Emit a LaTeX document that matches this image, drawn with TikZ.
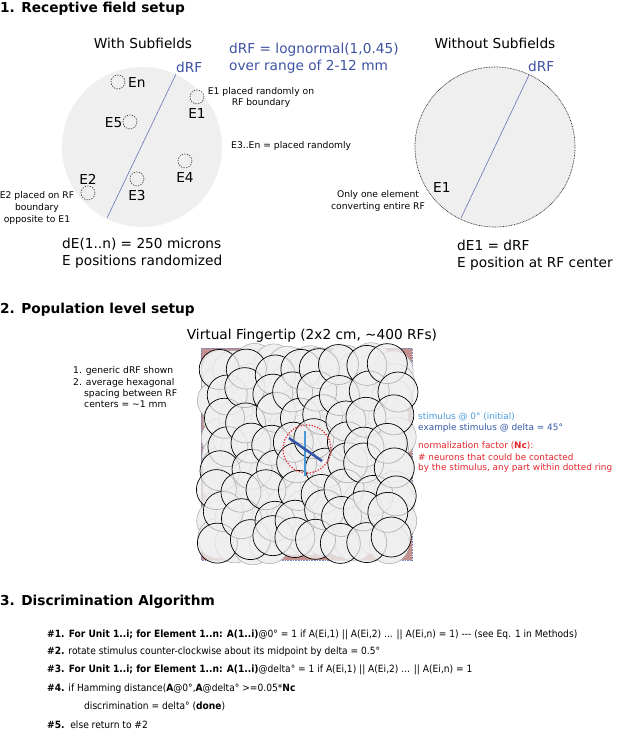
\documentclass[tikz,border=0pt]{standalone}
\usepackage{fontspec}
\setmainfont{DejaVu Sans}
\newfontfamily\condfont[FakeStretch=0.91]{DejaVu Sans}
\definecolor{rfgray}{HTML}{EFEFEF}
\definecolor{drfblue}{HTML}{3E52A3}
\definecolor{stimlight}{HTML}{4A9AD8}
\definecolor{stimdark}{HTML}{3457A8}
\definecolor{nred}{HTML}{E3242B}
\definecolor{skin}{HTML}{C4918E}
\begin{document}
\begin{tikzpicture}[x=1pt,y=-1pt,
  txt/.style={inner sep=0pt,font=\fontsize{13.7}{16}\selectfont},
  hd/.style={inner sep=0pt,anchor=base west,font=\fontsize{13.7}{16}\selectfont\bfseries},
  sm/.style={inner sep=0pt,font=\fontsize{9.2}{11}\selectfont},
  smr/.style={inner sep=0pt,anchor=base west,font=\fontsize{8.9}{11}\selectfont},
  alg/.style={inner sep=0pt,anchor=base west,font=\fontsize{10}{12}\selectfont\condfont},
  elem/.style={draw=black!80,dash pattern=on 1.3pt off 1.3pt,line width=0.6pt,circle,minimum size=14pt,inner sep=0pt},
  drf/.style={draw=drfblue!80,line width=0.6pt},
  rfback/.style={fill=rfgray,draw=black!35,line width=0.5pt},
  rffront/.style={fill=rfgray,fill opacity=0.75,draw=black,draw opacity=1,line width=0.7pt}]
\useasboundingbox (0,0) rectangle (617,742);
% ---------- 1. Receptive field setup
\node[hd] (t1) at (0,12) {1. Receptive field setup};
\node[txt,anchor=base] (ws) at (143,48) {With Subfields};
\node[txt,anchor=base] (wos) at (495,48) {Without Subfields};
\node[txt,anchor=base west,text=drfblue] (lg1) at (229,53) {dRF = lognormal(1,0.45)};
\node[txt,anchor=base west,text=drfblue] (lg2) at (229,70) {over range of 2-12 mm};
% left RF
\fill[rfgray] (142,147) circle[radius=80];
\coordinate (la) at (107,218);
\coordinate (lb) at (176,74);
\draw[drf] (la) -- (lb);
\node[txt,anchor=base west,text=drfblue] (ldrf) at (176,72) {dRF};
\node[elem] (en) at (118,82) {};
\node[txt,anchor=base west] (enl) at (128,87) {En};
\node[elem] (e5) at (130,122) {};
\node[txt,anchor=base east] (e5l) at (122.5,127) {E5};
\node[elem] (e1) at (197,97) {};
\node[txt,anchor=base] (e1l) at (197,118) {E1};
\node[elem] (e4) at (185,161) {};
\node[txt,anchor=base] (e4l) at (185,182) {E4};
\node[elem] (e3) at (137,179) {};
\node[txt,anchor=base] (e3l) at (137,200) {E3};
\node[elem] (e2) at (88,193) {};
\node[txt,anchor=base] (e2l) at (88,184) {E2};
\node[sm,anchor=base] (n1a) at (261,94) {E1 placed randomly on};
\node[sm,anchor=base] (n1b) at (261,105) {RF boundary};
\node[sm,anchor=base west] (n3) at (231,148) {E3..En = placed randomly};
\node[sm,anchor=base] (n2a) at (37,198) {E2 placed on RF};
\node[sm,anchor=base] (n2b) at (37,210) {boundary};
\node[sm,anchor=base] (n2c) at (37,222) {opposite to E1};
\node[txt,anchor=base west] (d1) at (62,248) {dE(1..n) = 250 microns};
\node[txt,anchor=base west] (d2) at (62,265) {E positions randomized};
% right RF
\fill[rfgray] (495,147) circle[radius=80];
\draw[black!80,line width=0.7pt,dash pattern=on 0.8pt off 0.8pt] (495,147) circle[radius=80];
\coordinate (ra) at (461,218);
\coordinate (rb) at (529,75);
\draw[drf] (ra) -- (rb);
\node[txt,anchor=base west,text=drfblue] (rdrf) at (528,71) {dRF};
\node[txt,anchor=base west] (re1) at (433,192) {E1};
\node[sm,anchor=base] (o1) at (378,197) {Only one element};
\node[sm,anchor=base] (o2) at (378,209) {converting entire RF};
\node[txt,anchor=base west] (r1) at (457,250) {dE1 = dRF};
\node[txt,anchor=base west] (r2) at (457,267) {E position at RF center};
% ---------- 2. Population level setup
\node[hd] (t2) at (0,313) {2. Population level setup};
\node[txt,anchor=base] (vf) at (312,339) {Virtual Fingertip (2x2 cm, \textasciitilde400 RFs)};
\node[sm,anchor=base west] (g1) at (73,373) {1. generic dRF shown};
\node[sm,anchor=base west] (g2) at (73,385) {2. average hexagonal};
\node[sm,anchor=base west] (g3) at (84,396) {spacing between RF};
\node[sm,anchor=base west] (g4) at (84,407) {centers = \textasciitilde1 mm};
\fill[skin] (201,348) rectangle (412,560);
\draw[drfblue!70,line width=0.5pt,dash pattern=on 0.8pt off 0.8pt] (201,348) rectangle (412,560);
\pgfmathsetseed{4242}
\foreach \i in {0,...,10}{\foreach \j in {0,...,10}{
  \pgfmathsetmacro\cx{220+\i*17.3+rand*5}
  \pgfmathsetmacro\cy{367+\j*17.3+rand*5}
  \draw[rfback] (\cx,\cy) circle[radius=20];}}
\foreach \i in {0,...,7}{\foreach \j in {0,...,7}{
  \pgfmathsetmacro\cx{222+\i*24.4+rand*6}
  \pgfmathsetmacro\cy{369+\j*24.4+rand*6}
  \draw[rffront] (\cx,\cy) circle[radius=20];}}
\draw[nred,line width=1.2pt,dash pattern=on 1.2pt off 1.6pt] (307,449) circle[radius=24];
\coordinate (sa) at (305,431);
\coordinate (sb) at (305,476);
\coordinate (sc) at (289,438);
\coordinate (sd) at (322,461);
\draw[stimlight,line width=2.6pt] (sa) -- (sb);
\draw[stimdark,line width=2.6pt] (sc) -- (sd);
\node[smr,text=stimlight] (s1) at (418,419) {stimulus @ 0° (initial)};
\node[smr,text=stimdark] (s2) at (418,430) {example stimulus @ delta = 45°};
\node[smr,text=nred] (s3) at (418,448) {normalization factor (\textbf{Nc}):};
\node[smr,text=nred] (s4) at (418,460) {\# neurons that could be contacted};
\node[smr,text=nred] (s5) at (418,470) {by the stimulus, any part within dotted ring};
% ---------- 3. Discrimination Algorithm
\node[hd] (t3) at (0,605) {3. Discrimination Algorithm};
\node[alg] (a1) at (47,637) {\textbf{\#1. For Unit 1..i; for Element 1..n: A(1..i)}@0° = 1 if A(Ei,1) || A(Ei,2) ... || A(Ei,n) = 1) -{}-{}- (see Eq. 1 in Methods)};
\node[alg] (a2) at (47,654) {\textbf{\#2.} rotate stimulus counter-clockwise about its midpoint by delta = 0.5°};
\node[alg] (a3) at (47,672) {\textbf{\#3. For Unit 1..i; for Element 1..n: A(1..i)}@delta° = 1 if A(Ei,1) || A(Ei,2) ... || A(Ei,n) = 1};
\node[alg] (a4) at (47,691) {\textbf{\#4.} if Hamming distance(\textbf{A}@0°,\textbf{A}@delta° >=0.05*\textbf{Nc}};
\node[alg] (a5) at (84,709) {discrimination = delta° (\textbf{done})};
\node[alg] (a6) at (47,728) {\textbf{\#5.}\ \ else return to \#2};
\end{tikzpicture}
\end{document}
